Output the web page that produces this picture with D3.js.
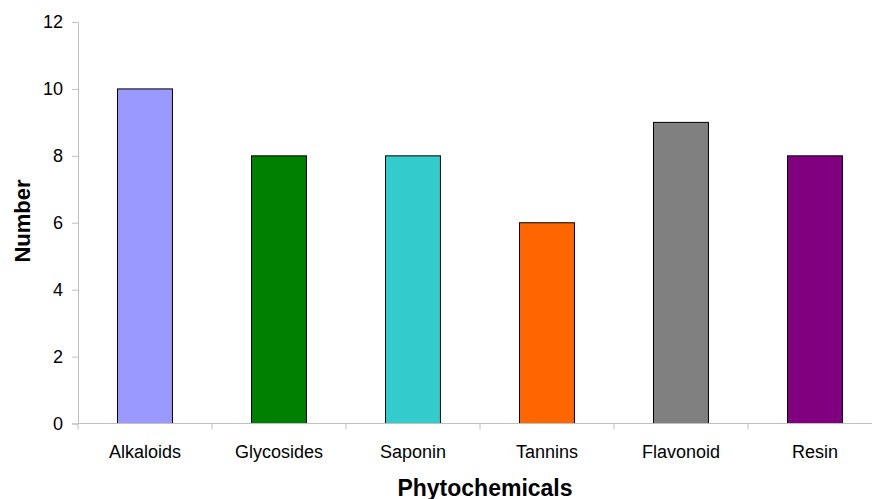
<!DOCTYPE html>
<html><head><meta charset="utf-8">
<script src="https://cdn.jsdelivr.net/npm/d3@7/dist/d3.min.js"></script>
<style>body{margin:0;background:#fff}svg{display:block}text{font-family:"Liberation Sans",Arial,sans-serif}</style>
</head><body>
<svg id="c" width="872" height="499"></svg>
<script>
const categories = ["Alkaloids","Glycosides","Saponin","Tannins","Flavonoid","Resin"];
const values = [10,8,8,6,9,8];
const colors = ["#9999FF","#008000","#33CCCC","#FF6600","#808080","#800080"];
const yTicks = [0,2,4,6,8,10,12];

const svg = d3.select("#c");
const x0 = 78, x1 = 882, yTop = 22, yBot = 423.5;
const x = d3.scaleBand().domain(categories).range([x0,x1]).paddingInner(0.59).paddingOuter(0.295);
const y = d3.scaleLinear().domain([0,12]).range([yBot,yTop]);
const axisColor = "#c0c0c0";

// y axis
const ya = svg.append("g").attr("transform",`translate(${x0},0)`)
  .call(d3.axisLeft(y).tickValues(yTicks).tickSize(6).tickPadding(9).tickFormat(d3.format("d")));
ya.select(".domain").attr("stroke",axisColor);
ya.selectAll(".tick line").attr("stroke",axisColor);
ya.selectAll(".tick text").attr("font-size",18).attr("fill","#000");

// bars
svg.append("g").selectAll("rect").data(categories).join("rect")
  .attr("x",d=>Math.round(x(d))-0.5)
  .attr("y",(d,i)=>y(values[i]))
  .attr("width",x.bandwidth())
  .attr("height",(d,i)=>yBot-y(values[i]))
  .attr("fill",(d,i)=>colors[i])
  .attr("stroke","#000").attr("stroke-width",1);

// x axis
const xa = svg.append("g").attr("transform",`translate(0,${yBot})`);
xa.append("line").attr("x1",x0).attr("x2",x1).attr("stroke",axisColor);
const step = x.step();
xa.selectAll(".tk").data(d3.range(0,categories.length+1)).join("line")
  .attr("x1",i=>x0+i*step).attr("x2",i=>x0+i*step).attr("y1",0).attr("y2",6).attr("stroke",axisColor);
xa.selectAll("text").data(categories).join("text")
  .attr("x",d=>x(d)+x.bandwidth()/2).attr("y",34.5)
  .attr("text-anchor","middle").attr("font-size",18).attr("fill","#000").text(d=>d);

// titles
svg.append("text").attr("x",(x0+x1)/2+5).attr("y",495.5).attr("text-anchor","middle")
  .attr("font-size",23).attr("font-weight","bold").text("Phytochemicals");
svg.append("text").attr("transform",`translate(30,221) rotate(-90)`)
  .attr("text-anchor","middle").attr("font-size",22).attr("font-weight","bold").text("Number");
</script>
</body></html>
